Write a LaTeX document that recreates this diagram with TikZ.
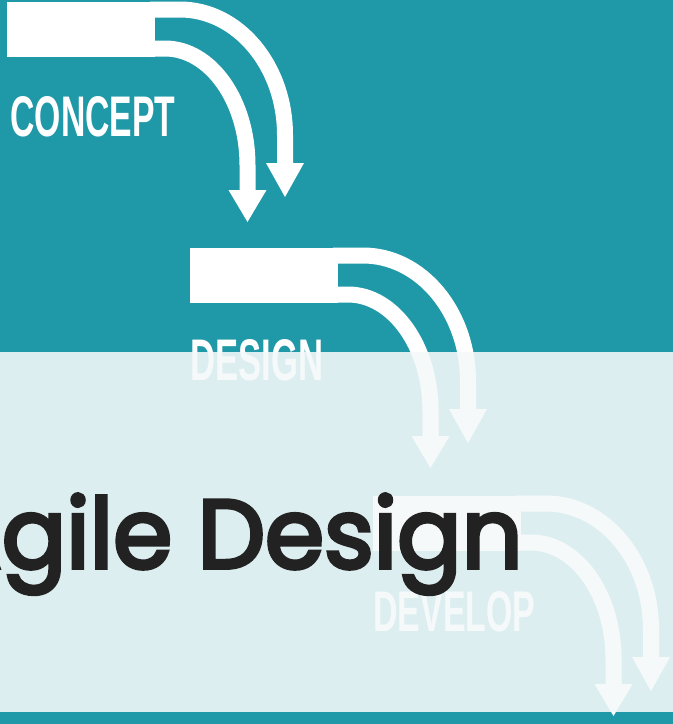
\documentclass[tikz,border=0pt]{standalone}
\usepackage{fontspec}
\usepackage{graphicx}
\newfontfamily\labelfont{Liberation Sans}
\newfontfamily\titlefont{Poppins}[FakeBold=4]
\definecolor{tealbg}{RGB}{31,152,168}
\definecolor{panelcol}{RGB}{245,249,250}
\definecolor{titlecol}{RGB}{34,34,34}
\tikzset{
  band/.style={draw=white,line width=8pt},
  headtri/.style={fill=white},
  lbl/.style={inner sep=0pt,text=white,font=\labelfont\bfseries},
}
\newcommand{\agileshape}[2]{%
  \begin{scope}[shift={(#1,#2)}]
    \fill[white] (7,2) rectangle (155,57);
    \draw[band] (150,9.5) -- (180,9.5) .. controls (238,9.5) and (285,66) .. (285,135) -- (285,165);
    \fill[headtri] (266,163) -- (304,163) -- (285,197) -- cycle;
    \draw[band] (150,48.5) -- (165,48.5) .. controls (210.5,48.5) and (247.5,100.7) .. (247.5,165) -- (247.5,192);
    \fill[headtri] (228.5,190) -- (266.5,190) -- (247.5,222) -- cycle;
  \end{scope}}
\begin{document}
\begin{tikzpicture}[x=0.5pt,y=-0.5pt]
\useasboundingbox (0,0) rectangle (673,724);
\fill[tealbg] (0,0) rectangle (673,724);
\agileshape{0}{0}
\agileshape{183}{246}
\agileshape{366}{494}
\node[lbl,anchor=south west] (concept) at (10,137) {\resizebox{82.5pt}{20pt}{CONCEPT}};
\node[lbl,anchor=south west] (design) at (190,381) {\resizebox{66.5pt}{20.5pt}{DESIGN}};
\node[lbl,anchor=south west] (develop) at (373,632) {\resizebox{81pt}{20pt}{DEVELOP}};
\fill[panelcol,fill opacity=0.89] (0,352) rectangle (673,712);
\node[anchor=base east,inner sep=0pt,text=titlecol,font=\titlefont\fontsize{48.6}{50}\selectfont] (title) at (523,568) {\scalebox{0.98}[1]{Agile Design}};
\end{tikzpicture}
\end{document}
